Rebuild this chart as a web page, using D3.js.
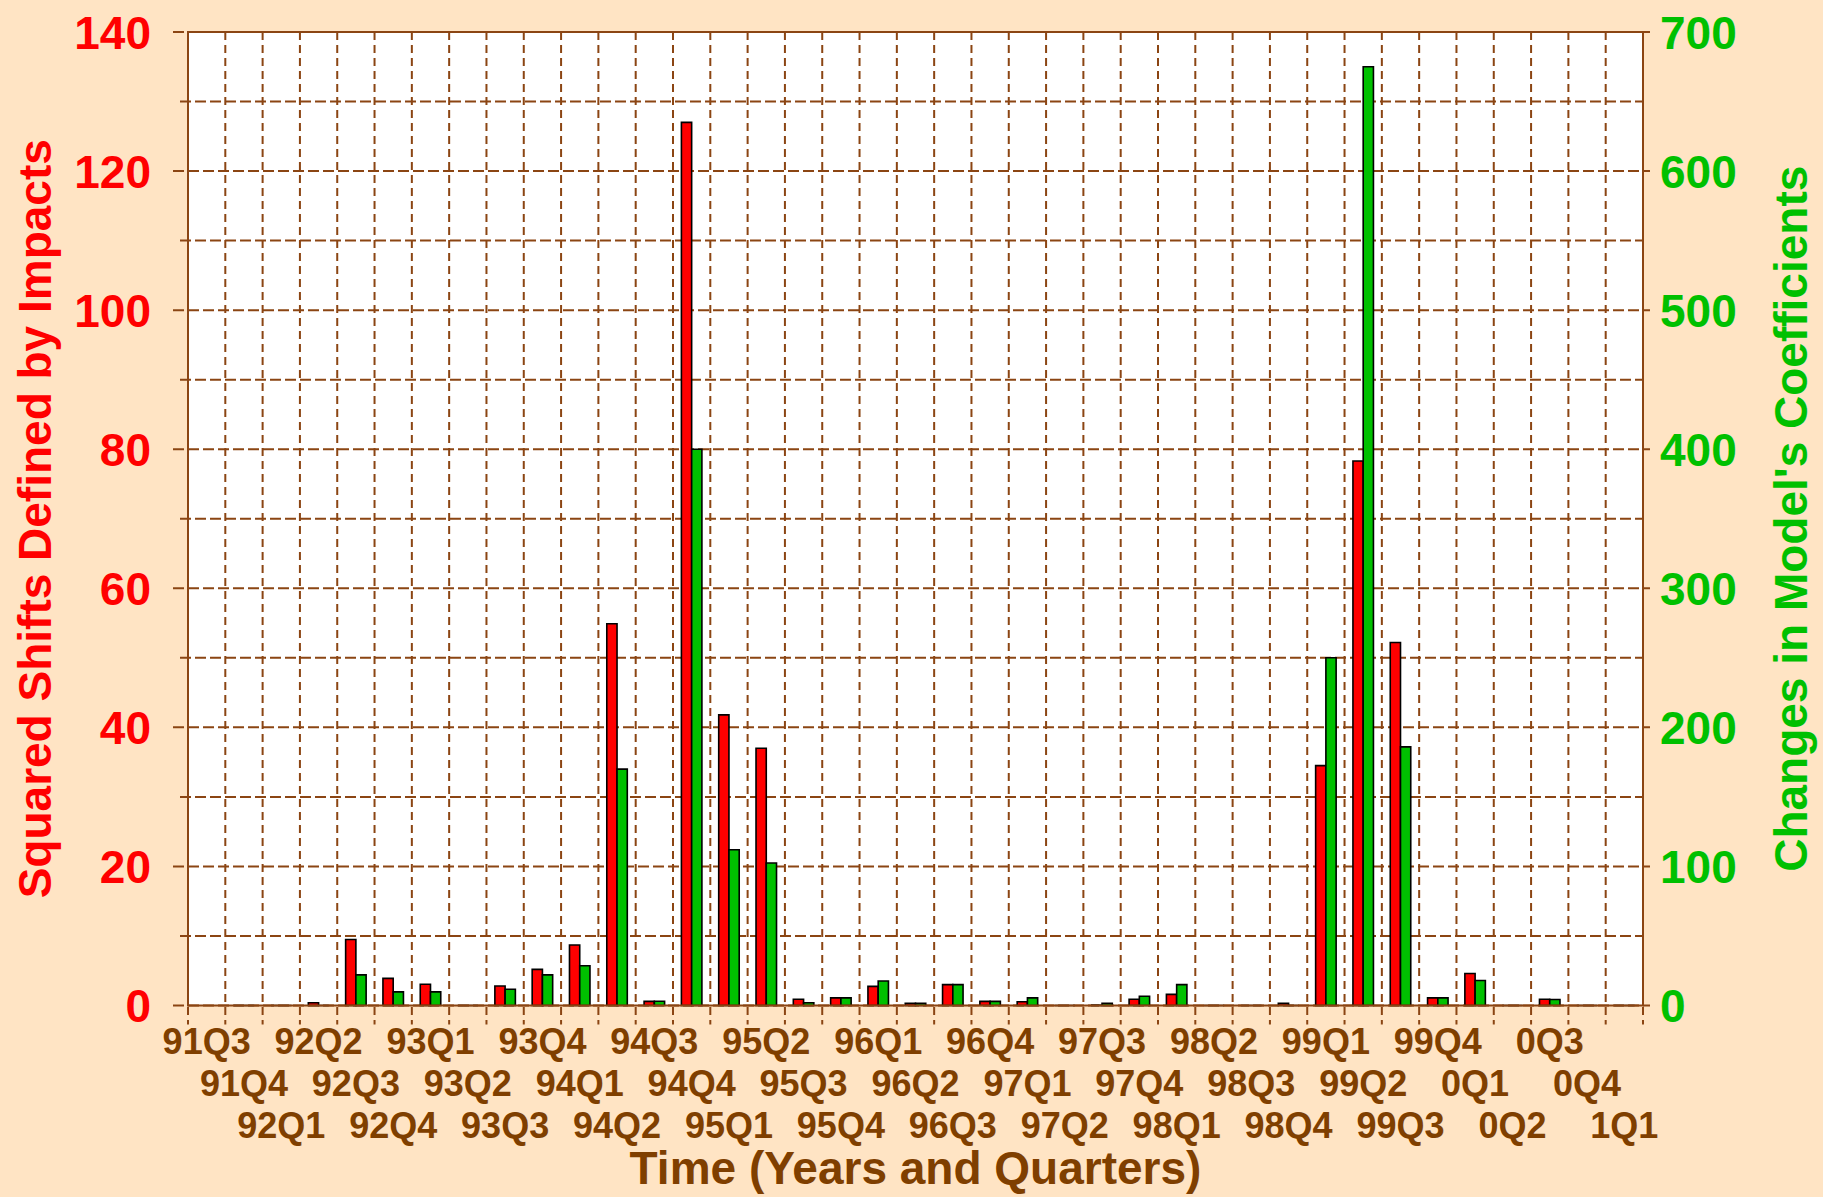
<!DOCTYPE html>
<html>
<head>
<meta charset="utf-8">
<script src="https://cdn.jsdelivr.net/npm/d3@7"></script>
<style>
    html, body { margin: 0; padding: 0; background: #FFE4C4; }
    svg { display: block; font-family: "Liberation Sans", Arial, sans-serif; font-weight: bold; }
</style>
</head>
<body>
<div id="chart"></div>
<script>
// quarters on the x axis, 91Q3 has no observation
const quarters = [
    '91Q3', '91Q4',
    '92Q1', '92Q2', '92Q3', '92Q4',
    '93Q1', '93Q2', '93Q3', '93Q4',
    '94Q1', '94Q2', '94Q3', '94Q4',
    '95Q1', '95Q2', '95Q3', '95Q4',
    '96Q1', '96Q2', '96Q3', '96Q4',
    '97Q1', '97Q2', '97Q3', '97Q4',
    '98Q1', '98Q2', '98Q3', '98Q4',
    '99Q1', '99Q2', '99Q3', '99Q4',
    '0Q1', '0Q2', '0Q3', '0Q4',
    '1Q1'
];

// squared shifts defined by impacts (left axis, red)
const shifts = [
    null, 0,
    0, 0.4, 9.5, 3.9,
    3.05, 0, 2.8, 5.2,
    8.7, 54.9, 0.6, 127,
    41.8, 37, 0.9, 1.1,
    2.75, 0.3, 3, 0.6,
    0.55, 0, 0.05, 0.9,
    1.6, 0, 0, 0.3,
    34.5, 78.3, 52.2, 1.1,
    4.6, 0, 0.9, 0,
    0
];

// changes in model's coefficients (right axis, green)
const changes = [
    null, 0,
    0, 0, 22, 9.8,
    9.8, 0, 11.7, 22,
    28.6, 170, 3.1, 400,
    112, 102.5, 2, 5.5,
    17.6, 1.5, 15, 3,
    5.5, 0, 1.5, 6.7,
    15, 0, 0, 0,
    250, 675, 186, 5.5,
    18, 0, 4.3, 0,
    0
];

const leftTicks = [0, 20, 40, 60, 80, 100, 120, 140];
const rightTicks = [0, 100, 200, 300, 400, 500, 600, 700];
const leftGrid = [0, 10, 20, 30, 40, 50, 60, 70, 80, 90, 100, 110, 120, 130, 140];

const width = 1823;
const height = 1197;
const plot = { left: 188, right: 1643, top: 32, bottom: 1005.5 };

const brown = '#8B4513';
const textBrown = '#7F3F00';
const red = '#FF0000';
const green = '#00C000';

let xScale, xInner, yLeft, yRight;

function buildScales() {
    xScale = d3.scaleBand()
        .domain(quarters)
        .range([plot.left, plot.right])
        .padding(0);

    xInner = d3.scaleBand()
        .domain(['shifts', 'changes'])
        .range([0, xScale.bandwidth()])
        .paddingInner(0)
        .paddingOuter(0.82);

    yLeft = d3.scaleLinear()
        .domain([0, 140])
        .range([plot.bottom, plot.top]);

    yRight = d3.scaleLinear()
        .domain([0, 700])
        .range([plot.bottom, plot.top]);
}

function drawGrid(svg) {
    const grid = svg.append('g').classed('grid', true);

    // plot background
    grid.append('rect')
        .attr('x', plot.left)
        .attr('y', plot.top)
        .attr('width', plot.right - plot.left)
        .attr('height', plot.bottom - plot.top)
        .attr('fill', '#fff');

    // horizontal dashed lines, labelled ones stick out a bit more
    grid.selectAll('.hline')
        .data(leftGrid)
      .enter()
      .append('line')
        .classed('hline', true)
        .attr('x1', d => leftTicks.includes(d) ? plot.left - 15 : plot.left - 8)
        .attr('x2', d => leftTicks.includes(d) ? plot.right + 7 : plot.right)
        .attr('y1', d => yLeft(d))
        .attr('y2', d => yLeft(d))
        .attr('stroke', brown)
        .attr('stroke-width', 2)
        .attr('stroke-dasharray', '11,4');

    // vertical dashed lines on the quarter boundaries
    const bounds = quarters.map(q => xScale(q)).concat([plot.right]);

    grid.selectAll('.vline')
        .data(bounds)
      .enter()
      .append('line')
        .classed('vline', true)
        .attr('x1', d => d)
        .attr('x2', d => d)
        .attr('y1', plot.top)
        .attr('y2', plot.bottom + 19)
        .attr('stroke', brown)
        .attr('stroke-width', 2)
        .attr('stroke-dasharray', '8,5');
}

function drawBars(svg) {
    const bars = svg.append('g').classed('bars', true);
    const w = xInner.bandwidth();

    const barPath = (x, y) => `M${x},${plot.bottom}V${y}H${x + w}V${plot.bottom}Z`;

    const rows = quarters
        .map((q, i) => ({ quarter: q, shift: shifts[i], change: changes[i] }))
        .filter(d => d.shift !== null);

    bars.selectAll('.shift')
        .data(rows)
      .enter()
      .append('path')
        .classed('shift', true)
        .attr('d', d => barPath(xScale(d.quarter) + xInner('shifts'), yLeft(d.shift)))
        .attr('fill', red)
        .attr('stroke', '#000')
        .attr('stroke-width', 1.6);

    bars.selectAll('.change')
        .data(rows)
      .enter()
      .append('path')
        .classed('change', true)
        .attr('d', d => barPath(xScale(d.quarter) + xInner('changes'), yRight(d.change)))
        .attr('fill', green)
        .attr('stroke', '#000')
        .attr('stroke-width', 1.6);
}

function drawFrame(svg) {
    svg.append('rect')
        .attr('x', plot.left)
        .attr('y', plot.top)
        .attr('width', plot.right - plot.left)
        .attr('height', plot.bottom - plot.top)
        .attr('fill', 'none')
        .attr('stroke', brown)
        .attr('stroke-width', 2);
}

function drawAxes(svg) {
    const leftAxis = d3.axisLeft(yLeft)
        .tickValues(leftTicks)
        .tickSize(0)
        .tickPadding(37);

    svg.append('g')
        .attr('transform', `translate(${plot.left},0)`)
        .call(leftAxis)
        .call(g => g.select('.domain').remove())
        .selectAll('text')
        .attr('fill', red)
        .style('font-size', '46px')
        .attr('dy', '0.35em');

    const rightAxis = d3.axisRight(yRight)
        .tickValues(rightTicks)
        .tickSize(0)
        .tickPadding(17);

    svg.append('g')
        .attr('transform', `translate(${plot.right},0)`)
        .call(rightAxis)
        .call(g => g.select('.domain').remove())
        .selectAll('text')
        .attr('fill', green)
        .style('font-size', '46px')
        .attr('dy', '0.35em');

    const bottomAxis = d3.axisBottom(xScale).tickSize(0);

    svg.append('g')
        .attr('transform', `translate(0,${plot.bottom})`)
        .call(bottomAxis)
        .call(g => g.select('.domain').remove())
        .selectAll('text')
        .attr('fill', textBrown)
        .style('font-size', '36px')
        .attr('dy', 0)
        .attr('y', (d, i) => 48 + (i % 3) * 42);

    svg.selectAll('.tick text').attr('font-family', null).attr('font-size', null);

    // axis titles
    svg.append('text')
        .attr('x', (plot.left + plot.right) / 2)
        .attr('y', 1184)
        .attr('text-anchor', 'middle')
        .attr('fill', textBrown)
        .style('font-size', '46px')
        .text('Time (Years and Quarters)');

    svg.append('text')
        .attr('transform', `translate(51,${(plot.top + plot.bottom) / 2}) rotate(-90)`)
        .attr('text-anchor', 'middle')
        .attr('fill', red)
        .style('font-size', '46px')
        .text('Squared Shifts Defined by Impacts');

    svg.append('text')
        .attr('transform', `translate(1807,${(plot.top + plot.bottom) / 2}) rotate(-90)`)
        .attr('text-anchor', 'middle')
        .attr('fill', green)
        .style('font-size', '46px')
        .text("Changes in Model's Coefficients");
}

buildScales();

const svg = d3.select('#chart')
  .append('svg')
    .attr('width', width)
    .attr('height', height);

svg.append('rect')
    .attr('width', width)
    .attr('height', height)
    .attr('fill', '#FFE4C4');

drawGrid(svg);
drawBars(svg);
drawFrame(svg);
drawAxes(svg);
</script>
</body>
</html>
